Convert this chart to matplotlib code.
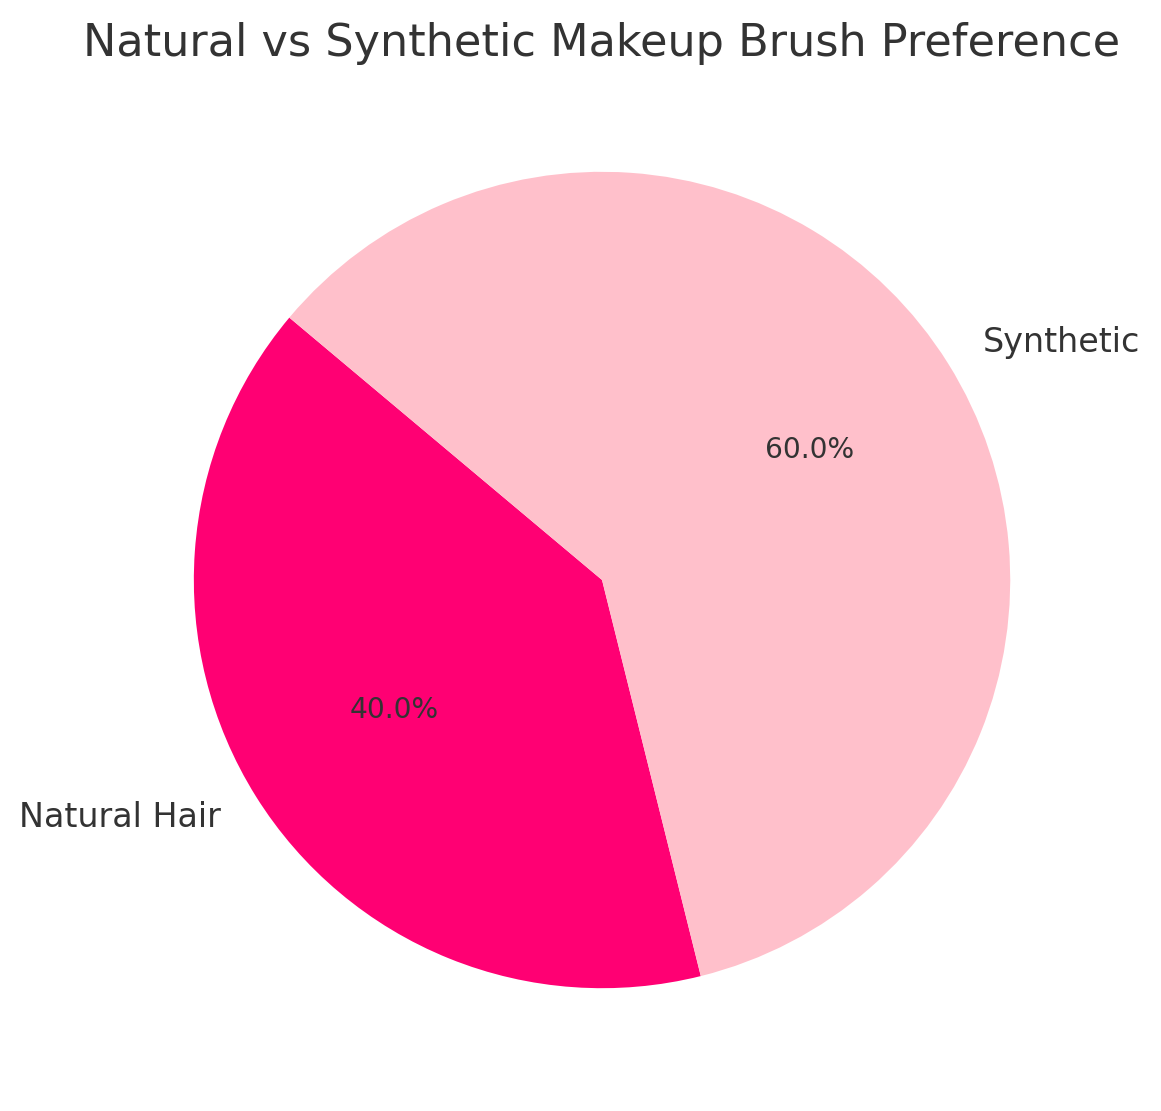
import matplotlib.pyplot as plt

labels = ['Natural Hair', 'Synthetic']
shares = [40, 60]
colors = ['#ff0073', '#ffc0cb']

plt.rcParams['font.family'] = ['DejaVu Sans']
plt.rcParams['text.color'] = '#333333'

fig = plt.figure(figsize=(7.74, 7.4067), dpi=150)
ax = fig.add_axes([0.1318, 0.0738, 0.7735, 0.8083])
wedges, texts, autotexts = ax.pie(shares, labels=labels, colors=colors, startangle=140,
                                  autopct='%1.1f%%', textprops={'fontsize': 16, 'color': '#333333'})
for t in autotexts:
    t.set_fontsize(13.5)
ax.set_title('Natural vs Synthetic Makeup Brush Preference', fontsize=21.4, color='#333333', pad=36)
ax.axis('equal')

fig.savefig('out.png', dpi=150)
